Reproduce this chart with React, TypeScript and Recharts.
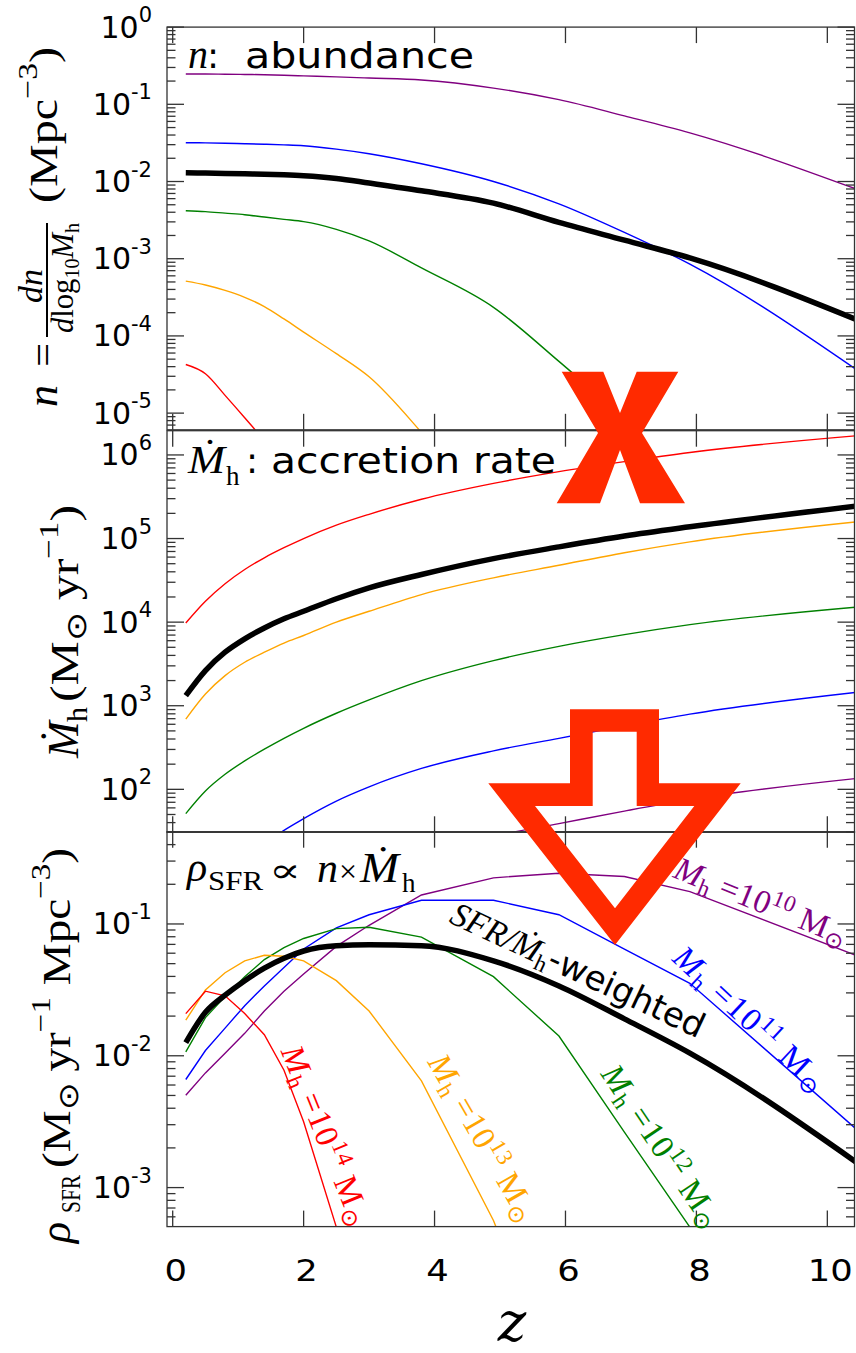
import React from "react";
import { LineChart, Line, XAxis, YAxis } from "recharts";

const W = 856;
const H = 1353;
const PL = 167; // plot left edge
const PR = 854.5; // plot right edge
const XMIN = -0.087;
const XMAX = 10.415;
const AXIS = "#333";

// redshift samples shared by all curves
const zGrid = [0.2, 0.5, 0.8, 1.1, 1.4, 1.7, 2.0, 2.5, 3.0, 3.8, 4.9, 5.9, 6.9, 7.9, 10.45];
const xTicks = [0, 2, 4, 6, 8, 10];

// top panel: log10 n (Mpc^-3)
const nPurple = [-0.607, -0.607, -0.61, -0.613, -0.617, -0.623, -0.632, -0.645, -0.66, -0.685, -0.79, -0.94, -1.15, -1.37, -2.1];
const nBlue = [-1.497, -1.5, -1.505, -1.51, -1.517, -1.525, -1.536, -1.58, -1.64, -1.77, -2.0, -2.29, -2.66, -3.07, -4.44];
const nBlack = [-1.886, -1.89, -1.895, -1.9, -1.905, -1.913, -1.925, -1.96, -2.02, -2.12, -2.28, -2.53, -2.76, -2.99, -3.79];
const nGreen = [-2.378, -2.39, -2.41, -2.43, -2.46, -2.49, -2.52, -2.62, -2.77, -3.12, -3.63, -4.33, -5.07, -5.81, null];
const nOrange = [-3.29, -3.34, -3.41, -3.5, -3.62, -3.78, -3.95, -4.23, -4.53, -5.25, -6.4, null, null, null, null];
const nRed = [-4.37, -4.49, -4.77, -5.06, -5.36, -5.7, null, null, null, null, null, null, null, null, null];

// middle panel: log10 Mdot_h (Msun/yr)
const mRed = [3.99, 4.25, 4.46, 4.63, 4.77, 4.89, 5.0, 5.16, 5.29, 5.47, 5.66, 5.8, 5.92, 6.03, 6.23];
const mBlack = [3.12, 3.42, 3.64, 3.8, 3.93, 4.04, 4.13, 4.28, 4.41, 4.57, 4.76, 4.9, 5.03, 5.14, 5.39];
const mOrange = [2.84, 3.14, 3.36, 3.52, 3.64, 3.75, 3.84, 4.0, 4.13, 4.33, 4.53, 4.68, 4.83, 4.96, 5.2];
const mGreen = [1.71, 1.98, 2.18, 2.34, 2.48, 2.61, 2.73, 2.91, 3.07, 3.3, 3.54, 3.71, 3.85, 3.97, 4.18];
const mBlue = [0.6, 0.88, 1.08, 1.24, 1.37, 1.51, 1.65, 1.86, 2.03, 2.25, 2.46, 2.61, 2.76, 2.9, 3.16];
const mPurple = [-0.4, -0.14, 0.06, 0.22, 0.35, 0.49, 0.63, 0.84, 1.01, 1.23, 1.44, 1.59, 1.74, 1.88, 2.13];

// bottom panel: log10 rho_SFR
const rRed = [-1.68, -1.51, -1.545, -1.68, -1.84, -2.11, -2.5, -3.3, -4.2, null, null, null, null, null, null];
const rOrange = [-1.73, -1.5, -1.37, -1.28, -1.237, -1.245, -1.28, -1.43, -1.66, -2.19, -3.25, -4.5, null, null, null];
const rGreen = [-1.97, -1.71, -1.55, -1.4, -1.27, -1.18, -1.11, -1.035, -1.025, -1.1, -1.4, -1.85, -2.58, -3.3, -5.0];
const rBlue = [-2.18, -1.96, -1.79, -1.62, -1.47, -1.33, -1.19, -1.03, -0.93, -0.82, -0.82, -0.93, -1.19, -1.45, -2.56];
const rPurple = [-2.3, -2.13, -1.98, -1.83, -1.66, -1.51, -1.38, -1.17, -1.01, -0.78, -0.65, -0.615, -0.64, -0.755, -1.24];
const rBlack = [-1.9, -1.67, -1.54, -1.43, -1.335, -1.26, -1.205, -1.165, -1.158, -1.165, -1.28, -1.47, -1.72, -1.98, -2.81];

const exp10 = (v: number | null) => (v === null ? null : Math.pow(10, v));

const rows = zGrid.map((z, i) => ({
  z,
  nPurple: exp10(nPurple[i]), nBlue: exp10(nBlue[i]), nBlack: exp10(nBlack[i]),
  nGreen: exp10(nGreen[i]), nOrange: exp10(nOrange[i]), nRed: exp10(nRed[i]),
  mPurple: exp10(mPurple[i]), mBlue: exp10(mBlue[i]), mBlack: exp10(mBlack[i]),
  mGreen: exp10(mGreen[i]), mOrange: exp10(mOrange[i]), mRed: exp10(mRed[i]),
  rPurple: exp10(rPurple[i]), rBlue: exp10(rBlue[i]), rBlack: exp10(rBlack[i]),
  rGreen: exp10(rGreen[i]), rOrange: exp10(rOrange[i]), rRed: exp10(rRed[i]),
}));

const COLORS: Record<string, string> = {
  Purple: "#800080", Blue: "#0000ff", Green: "#008000", Orange: "#ffa500", Red: "#ff0000", Black: "#000000",
};
const ORDER = ["Purple", "Blue", "Green", "Orange", "Red", "Black"];

// log ticks: majors at each decade, minors at 2..9
function logTicks(lo: number, hi: number) {
  const out: number[] = [];
  for (let e = Math.floor(lo); e <= Math.ceil(hi); e++) {
    for (let k = 1; k <= 9; k++) {
      const v = k * Math.pow(10, e);
      const l = Math.log10(v);
      if (l >= lo - 1e-9 && l <= hi + 1e-9) out.push(v);
    }
  }
  return out;
}

type PanelProps = {
  prefix: string;
  top: number;
  bottom: number;
  lo: number;
  hi: number;
  xLabels: boolean;
  smoothAll: boolean;
};

function Panel({ prefix, top, bottom, lo, hi, xLabels, smoothAll }: PanelProps) {
  const yTick = (p: any) => {
    const y = p.y;
    const e = Math.log10(p.payload.value);
    const major = Math.abs(e - Math.round(e)) < 1e-6;
    const len = major ? 17 : 8.5;
    return (
      <g>
        <line x1={PL} x2={PL + len} y1={y} y2={y} stroke={AXIS} strokeWidth={1.3} />
        <line x1={PR - len} x2={PR} y1={y} y2={y} stroke={AXIS} strokeWidth={1.3} />
        {major && (
          <text x={PL - 15} y={y + 10.5} textAnchor="end" fontFamily="DejaVu Sans" fontSize={30} fill="#000">
            10<tspan dy={-15.5} fontSize={21}>{String(Math.round(e))}</tspan>
          </text>
        )}
      </g>
    );
  };
  const xTick = (p: any) => {
    const x = p.x;
    const label = String(p.payload.value);
    return (
      <g>
        <line x1={x} x2={x} y1={bottom} y2={bottom - 16} stroke={AXIS} strokeWidth={1.3} />
        <line x1={x} x2={x} y1={top} y2={top + 16} stroke={AXIS} strokeWidth={1.3} />
        {xLabels && (
          <text
            x={x + 3} y={bottom + 54} textAnchor="middle" fontFamily="DejaVu Sans" fontSize={30} fill="#000"
            textLength={label.length * 22.5} lengthAdjust="spacingAndGlyphs"
          >
            {label}
          </text>
        )}
      </g>
    );
  };
  return (
    <div style={{ position: "absolute", left: 0, top: 0 }}>
      <LineChart width={W} height={H} data={rows} margin={{ top, right: W - PR, bottom: H - bottom - 1, left: PL - 1 }}>
        <XAxis
          dataKey="z" type="number" domain={[XMIN, XMAX]} allowDataOverflow ticks={xTicks} interval={0}
          height={1} tickSize={0} tickMargin={0} tickLine={false} axisLine={false} tick={xTick}
        />
        <YAxis
          type="number" scale="log" domain={[Math.pow(10, lo), Math.pow(10, hi)]} allowDataOverflow
          ticks={logTicks(lo, hi)} interval={0} width={1} tickSize={0} tickMargin={0}
          tickLine={false} axisLine={false} tick={yTick}
        />
        {ORDER.map((c) => (
          <Line
            key={c} type={smoothAll || c === "Black" ? "monotone" : "linear"} dataKey={prefix + c} stroke={COLORS[c]}
            strokeWidth={c === "Black" ? 5.5 : 1.4} dot={false} isAnimationActive={false}
          />
        ))}
      </LineChart>
    </div>
  );
}

const SERIF = "Liberation Serif";
const SANS = "DejaVu Sans";

function MassLabel({ x, y, angle, len, color, exp }: { x: number; y: number; angle: number; len: number; color: string; exp: string }) {
  return (
    <text transform={`translate(${x},${y}) rotate(${angle})`} fill={color} fontFamily={SERIF} fontSize={33} textLength={len} lengthAdjust="spacing">
      <tspan fontStyle="italic">M</tspan>
      <tspan fontSize={23} dy={6}>h</tspan>
      <tspan dy={-6}> =10</tspan>
      <tspan fontSize={23} dy={-12}>{exp}</tspan>
      <tspan dy={12}> M</tspan>
      <tspan fontSize={23} dy={6}>⊙</tspan>
    </text>
  );
}

function Overlay() {
  return (
    <svg width={W} height={H} style={{ position: "absolute", left: 0, top: 0 }}>
      {/* panel frames */}
      <rect x={PL} y={27.1} width={PR - PL} height={429.8 - 27.1} fill="none" stroke={AXIS} strokeWidth={1.3} />
      <rect x={PL} y={430.7} width={PR - PL} height={832.3 - 430.7} fill="none" stroke={AXIS} strokeWidth={1.3} />
      <rect x={PL} y={831.7} width={PR - PL} height={1226.6 - 831.7} fill="none" stroke={AXIS} strokeWidth={1.3} />

      {/* panel titles */}
      <text x={188} y={68} fontFamily={SERIF} fontStyle="italic" fontSize={40}>n</text>
      <text x={207} y={68} fontFamily={SANS} fontSize={36}>:</text>
      <text x={245} y={68} fontFamily={SANS} fontSize={36} textLength={229} lengthAdjust="spacingAndGlyphs">abundance</text>

      <text x={188} y={473} fontFamily={SERIF} fontStyle="italic" fontSize={40} textLength={37} lengthAdjust="spacingAndGlyphs">{"\u1E40"}</text>
      <text x={226} y={485} fontFamily={SERIF} fontSize={27}>h</text>
      <text x={246} y={473} fontFamily={SANS} fontSize={36}>:</text>
      <text x={271} y={473} fontFamily={SANS} fontSize={36} textLength={285} lengthAdjust="spacingAndGlyphs">accretion rate</text>

      <text x={187} y={881} fontFamily={SERIF} fontStyle="italic" fontSize={42}>ρ</text>
      <text x={208} y={890} fontFamily={SERIF} fontSize={27} textLength={55} lengthAdjust="spacingAndGlyphs">SFR</text>
      <text x={269} y={882} fontFamily="DejaVu Serif" fontSize={34} textLength={32} lengthAdjust="spacingAndGlyphs">∝</text>
      <text x={317} y={882} fontFamily={SERIF} fontStyle="italic" fontSize={42}>n</text>
      <text x={339} y={882} fontFamily={SERIF} fontSize={32}>×</text>
      <text x={360} y={882} fontFamily={SERIF} fontStyle="italic" fontSize={42} textLength={39} lengthAdjust="spacingAndGlyphs">{"\u1E40"}</text>
      <text x={402} y={892} fontFamily={SERIF} fontSize={27}>h</text>

      {/* y axis titles */}
      <g transform="translate(57,407) rotate(-90)" fontFamily={SERIF} fill="#000">
        <text x={0} y={0} fontStyle="italic" fontSize={44}>n</text>
        <text x={40} y={0} fontSize={40} textLength={24} lengthAdjust="spacingAndGlyphs">=</text>
        <text x={104} y={-15} fontStyle="italic" fontSize={34}>dn</text>
        <line x1={70} x2={184} y1={-10} y2={-10} stroke="#000" strokeWidth={2} />
        <text x={74} y={16} fontSize={32} textLength={110} lengthAdjust="spacingAndGlyphs">
          <tspan fontStyle="italic">d</tspan>log<tspan fontSize={21} dy={6}>10</tspan>
          <tspan fontStyle="italic" dy={-6}>M</tspan><tspan fontSize={21} dy={6}>h</tspan>
        </text>
        <text x={204} y={0} fontSize={40} textLength={156} lengthAdjust="spacingAndGlyphs">
          (Mpc<tspan fontSize={28} dy={-20}>−3</tspan><tspan dy={20}>)</tspan>
        </text>
      </g>
      <g transform="translate(78,758) rotate(-90)" fontFamily={SERIF} fill="#000">
        <text x={0} y={0} fontStyle="italic" fontSize={44}>{"\u1E40"}</text>
        <text x={36} y={9} fontSize={30}>h</text>
        <text x={56} y={0} fontSize={40} textLength={197} lengthAdjust="spacingAndGlyphs">
          (M<tspan fontSize={28} dy={8}>⊙</tspan><tspan dy={-8}> yr</tspan>
          <tspan fontSize={28} dy={-20}>−1</tspan><tspan dy={20}>)</tspan>
        </text>
      </g>
      <g transform="translate(70,1243) rotate(-90)" fontFamily={SERIF} fill="#000">
        <text x={0} y={0} fontStyle="italic" fontSize={44}>ρ</text>
        <text x={30} y={10} fontSize={28} textLength={38} lengthAdjust="spacingAndGlyphs">SFR</text>
        <text x={75} y={0} fontSize={40} textLength={320} lengthAdjust="spacingAndGlyphs">
          (M<tspan fontSize={28} dy={8}>⊙</tspan><tspan dy={-8}> yr</tspan>
          <tspan fontSize={28} dy={-20}>−1</tspan><tspan dy={20}> Mpc</tspan>
          <tspan fontSize={28} dy={-20}>−3</tspan><tspan dy={20}>)</tspan>
        </text>
      </g>

      {/* x axis title */}
      <text x={512} y={1341} textAnchor="middle" fontFamily="DejaVu Serif" fontStyle="italic" fontSize={54}>z</text>

      {/* curve labels */}
      <MassLabel x={672} y={877} angle={22} len={183} color="#800080" exp="10" />
      <MassLabel x={671} y={960} angle={43} len={195} color="#0000ff" exp="11" />
      <MassLabel x={600} y={1074} angle={56} len={188} color="#008000" exp="12" />
      <MassLabel x={427} y={1062} angle={60} len={186} color="#ffa500" exp="13" />
      <MassLabel x={280.5} y={1051} angle={68} len={190} color="#ff0000" exp="14" />
      <text transform="translate(448,922) rotate(25)" fill="#000" fontSize={34} textLength={276} lengthAdjust="spacing">
        <tspan fontFamily={SERIF} fontStyle="italic">SFR/{"\u1E40"}</tspan>
        <tspan fontFamily={SERIF} fontSize={23} dy={6}>h</tspan>
        <tspan fontFamily={SANS} dy={-6}>-weighted</tspan>
      </text>

      {/* red annotations */}
      <polygon
        points="561.7,371.7 603.3,371.7 620,413 636.7,371.7 678.3,371.7 642,433 685,503.3 640,503.3 620,450 600,503.3 556.7,503.3 598,433"
        fill="#ff2a00"
      />
      <path
        fillRule="evenodd"
        fill="#ff2a00"
        d="M570,709.3 L659,709.3 L659,783.3 L740.7,783.3 L615,945 L488.3,783.3 L570,783.3 Z M592.7,731.7 L636.7,731.7 L636.7,806 L694.3,806 L615,908.3 L535,806 L592.7,806 Z"
      />
    </svg>
  );
}

export default function App() {
  return (
    <div style={{ position: "absolute", left: 0, top: 0, width: W, height: H, background: "#fff" }}>
      <Panel prefix="n" top={27.1} bottom={429.8} lo={-5.216} hi={0} xLabels={false} smoothAll={true} />
      <Panel prefix="m" top={430.7} bottom={832.3} lo={1.486} hi={6.29} xLabels={false} smoothAll={true} />
      <Panel prefix="r" top={831.7} bottom={1226.6} lo={-3.296} hi={-0.3} xLabels={true} smoothAll={false} />
      <Overlay />
    </div>
  );
}
